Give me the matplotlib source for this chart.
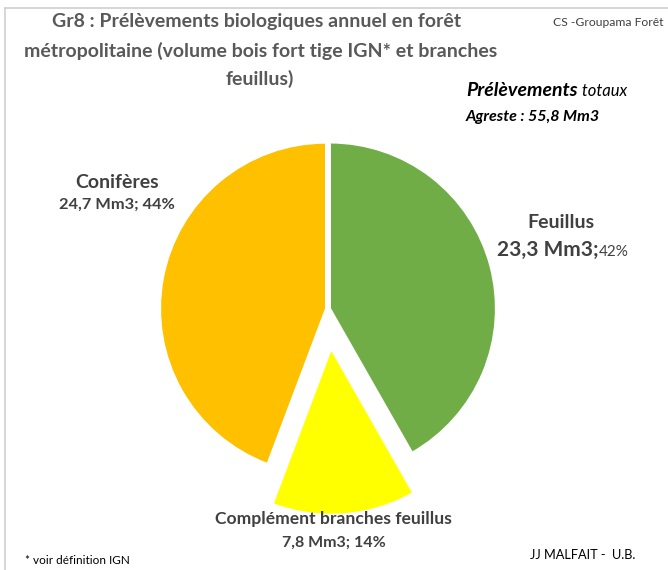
import matplotlib
matplotlib.use("Agg")
import matplotlib.pyplot as plt
from matplotlib.lines import Line2D

# ---- data ----
categories = ["Feuillus", "Complément branches feuillus", "Conifères"]
values = [23.3, 7.8, 24.7]          # Mm3
percents = ["42%", "14%", "44%"]
colors = ["#70AD47", "#FFFF00", "#FFC000"]
explode = [0.012, 0.24, 0.012]
total_label = "Agreste : 55,8 Mm3"

W, H = 668, 570
fig = plt.figure(figsize=(W / 100, H / 100), dpi=100)
fig.patch.set_facecolor("white")

FONT = "Lato"
TXT = "#404040"

def fx(x):
    return x / W

def fy(y):
    return 1 - y / H

# pie axes: 1 data unit = R pixels
R = 166.0
cx, cy = 328.0, 309.0
ax = fig.add_axes([0, 0, 1, 1])
ax.axis("off")
ax.pie(values, colors=colors, startangle=90, counterclock=False,
       explode=explode, radius=1.0,
       wedgeprops=dict(edgecolor="white", linewidth=1.5))
ax.set_aspect("auto")
ax.set_xlim(-cx / R, (W - cx) / R)
ax.set_ylim(-(H - cy) / R, cy / R)

# border (top and left visible)
fig.add_artist(Line2D([fx(5), fx(5)], [fy(8), 0], color="#D0D0D0", lw=1.2))
fig.add_artist(Line2D([fx(5), 1], [fy(8), fy(8)], color="#D0D0D0", lw=1.2))

# title
title_lines = ["Gr8 : Prélèvements biologiques annuel en forêt",
               "métropolitaine (volume bois fort tige IGN* et branches",
               "feuillus)"]
for txt, (x, y) in zip(title_lines, [(257, 22), (261, 51), (260, 79)]):
    fig.text(fx(x), fy(y), txt, ha="center", va="center", fontsize=14,
             family=FONT, fontweight="bold", color="#595959")

fig.text(fx(608), fy(22), "CS -Groupama Forêt", ha="center", va="center",
         fontsize=8.7, family=FONT, color=TXT)

fig.canvas.draw()
renderer = fig.canvas.get_renderer()

def inline(parts, x, y, ha="left"):
    """parts: list of (text, kwargs). Place consecutive texts on one line."""
    arts = []
    for t, kw in parts:
        kw = dict(kw)
        kw.setdefault("color", TXT)
        a = fig.text(0, fy(y), t, va="baseline", family=FONT, **kw)
        arts.append(a)
    widths = [a.get_window_extent(renderer).width for a in arts]
    total = sum(widths)
    start = x - total / 2 if ha == "center" else x
    for a, w in zip(arts, widths):
        a.set_x(fx(start))
        start += w

inline([("Prélèvements", dict(fontsize=14, fontweight="bold", style="italic", color="black")),
        (" totaux", dict(fontsize=12, style="italic", color="black"))], 466, 96)
inline([(total_label, dict(fontsize=11.5, fontweight="bold", style="italic", color="black"))], 466, 121)

# slice labels
fig.text(fx(117), fy(183), categories[2], ha="center", va="center",
         fontsize=14, fontweight="bold", family=FONT, color=TXT)
fig.text(fx(117), fy(205), f"{values[2]:.1f}".replace(".", ",") + f" Mm3; {percents[2]}",
         ha="center", va="center", fontsize=11.8, fontweight="bold", family=FONT, color=TXT)

fig.text(fx(561), fy(223), categories[0], ha="center", va="center",
         fontsize=14, fontweight="bold", family=FONT, color=TXT)
inline([(f"{values[0]:.1f}".replace(".", ",") + " Mm3;", dict(fontsize=15, fontweight="bold")),
        (percents[0], dict(fontsize=11))], 563, 256, ha="center")

fig.text(fx(333), fy(519), categories[1], ha="center", va="center",
         fontsize=12.6, fontweight="bold", family=FONT, color=TXT)
fig.text(fx(334), fy(543), f"{values[1]:.1f}".replace(".", ",") + f" Mm3; {percents[1]}",
         ha="center", va="center", fontsize=11.5, fontweight="bold", family=FONT, color=TXT)

fig.text(fx(25), fy(560), "* voir définition IGN", ha="left", va="center",
         fontsize=8.5, family=FONT, color="black")
fig.text(fx(583), fy(555), "JJ MALFAIT -  U.B.", ha="center", va="center",
         fontsize=9.2, family=FONT, color="black")

fig.savefig("out.png", dpi=100, facecolor="white")
